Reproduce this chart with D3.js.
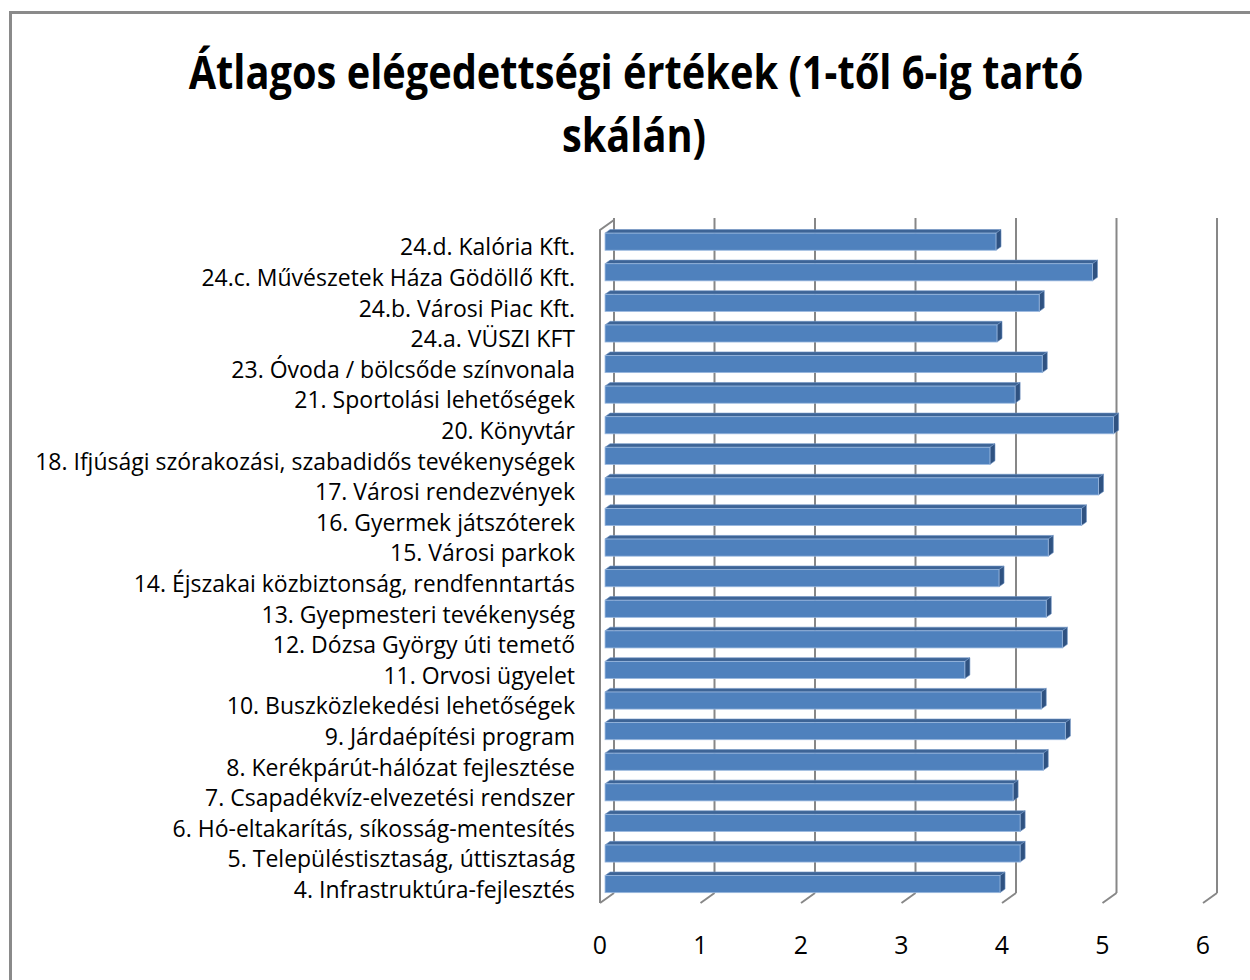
<!DOCTYPE html>
<html>
<head>
<meta charset="utf-8">
<script src="https://cdn.jsdelivr.net/npm/d3@7"></script>
<style>
  html, body { margin: 0; padding: 0; background: #ffffff; }
  svg { display: block; }
  text { font-family: "Open Sans", "Noto Sans", "DejaVu Sans", sans-serif; fill: #000; }
</style>
</head>
<body>
<svg id="chart" width="1250" height="980"></svg>
<script>
// Survey items, listed top to bottom as they appear on the chart
const categories = [
  "24.d. Kalória Kft.",
  "24.c. Művészetek Háza Gödöllő Kft.",
  "24.b. Városi Piac Kft.",
  "24.a. VÜSZI KFT",
  "23. Óvoda / bölcsőde színvonala",
  "21. Sportolási lehetőségek",
  "20. Könyvtár",
  "18. Ifjúsági szórakozási, szabadidős tevékenységek",
  "17. Városi rendezvények",
  "16. Gyermek játszóterek",
  "15. Városi parkok",
  "14. Éjszakai közbiztonság, rendfenntartás",
  "13. Gyepmesteri tevékenység",
  "12. Dózsa György úti temető",
  "11. Orvosi ügyelet",
  "10. Buszközlekedési lehetőségek",
  "9. Járdaépítési program",
  "8. Kerékpárút-hálózat fejlesztése",
  "7. Csapadékvíz-elvezetési rendszer",
  "6. Hó-eltakarítás, síkosság-mentesítés",
  "5. Településtisztaság, úttisztaság",
  "4. Infrastruktúra-fejlesztés"
];

// Average satisfaction (1–6 scale), same order as categories
const averages = [
  3.89, 4.85, 4.32, 3.90, 4.35, 4.08, 5.06, 3.83, 4.91, 4.74, 4.41,
  3.92, 4.39, 4.55, 3.58, 4.34, 4.58, 4.36, 4.06, 4.13, 4.13, 3.93
];

const xTicks = [0, 1, 2, 3, 4, 5, 6];

const titleLines = ["Átlagos elégedettségi értékek (1-től 6-ig tartó", "skálán)"];

const svg = d3.select("#chart");

// Outer chart frame
svg.append("rect")
  .attr("x", 10.5).attr("y", 12.5)
  .attr("width", 1300).attr("height", 1100)
  .attr("fill", "#fff")
  .attr("stroke", "#8a8a8a")
  .attr("stroke-width", 3);

// Front plane scales; the back wall is offset by a fixed depth vector
const x = d3.scaleLinear().domain([0, 6]).range([600, 1203]);
const y = d3.scaleBand().domain(categories).range([230, 903]).paddingInner(0.44).paddingOuter(0.22);
const depth = { dx: 14, dy: -10 };
const yTop = 230, yBottom = 903;

const grid = svg.append("g")
  .attr("stroke", "#878787")
  .attr("stroke-width", 2)
  .attr("fill", "none");

// Back wall gridlines and floor depth ticks
xTicks.forEach(v => {
  const xf = x(v), xb = x(v) + depth.dx;
  grid.append("line")
    .attr("x1", xb).attr("y1", yTop + depth.dy - 2)
    .attr("x2", xb).attr("y2", yBottom + depth.dy);
  grid.append("line")
    .attr("x1", xf).attr("y1", yBottom)
    .attr("x2", xb).attr("y2", yBottom + depth.dy);
});

// Left side wall edge
grid.append("path")
  .attr("d", `M${x(0) + depth.dx},${yTop + depth.dy} L${x(0)},${yTop} L${x(0)},${yBottom}`);

// 3D bars: front face, top face and end face
const f1 = 0.36, f2 = 0.72;
const bars = svg.append("g");
categories.forEach((c, i) => {
  const v = averages[i];
  const ox = depth.dx * f1, oy = depth.dy * f1;
  const tx = depth.dx * (f2 - f1), ty = depth.dy * (f2 - f1);
  const x0 = x(0) + ox, x1 = x(v) + ox;
  const yt = y(c) + oy, yb = y(c) + y.bandwidth() + oy;

  // top face
  bars.append("path")
    .attr("d", `M${x0},${yt} L${x1},${yt} L${x1 + tx},${yt + ty} L${x0 + tx},${yt + ty} Z`)
    .attr("fill", "#3d6496")
    .attr("stroke", "#6f94c4").attr("stroke-width", 0.6);
  // end face
  bars.append("path")
    .attr("d", `M${x1},${yt} L${x1 + tx},${yt + ty} L${x1 + tx},${yb + ty} L${x1},${yb} Z`)
    .attr("fill", "#2f5281")
    .attr("stroke", "#6f94c4").attr("stroke-width", 0.6);
  // front face
  bars.append("rect")
    .attr("x", x0).attr("y", yt)
    .attr("width", x1 - x0).attr("height", yb - yt)
    .attr("fill", "#4f81bd")
    .attr("stroke", "#9bb9df").attr("stroke-width", 0.8);
});

// Category labels (condensed to the chart's narrow lettering)
const labelG = svg.append("g");
const labels = labelG.selectAll("g")
  .data(categories)
  .join("g")
  .attr("transform", d => `translate(575,${y(d) + y.bandwidth() / 2 + 1})`);
const labelText = labels.append("text")
  .attr("text-anchor", "end")
  .attr("dominant-baseline", "central")
  .attr("font-size", 24)
  .attr("fill", "#111")
  .text(d => d);

let widest = 0;
labelText.each(function () { widest = Math.max(widest, this.getComputedTextLength()); });
const sx = 540 / widest;
labelText.attr("transform", `scale(${sx},1)`);

// Value axis labels along the front floor edge
svg.append("g").selectAll("text")
  .data(xTicks)
  .join("text")
  .attr("transform", d => `translate(${x(d)},944) scale(${sx},1)`)
  .attr("text-anchor", "middle")
  .attr("dominant-baseline", "central")
  .attr("font-size", 26)
  .attr("fill", "#111")
  .text(d => d);

// Title
const title = svg.append("g");
const t1 = title.append("text")
  .attr("text-anchor", "middle")
  .attr("font-size", 47)
  .attr("font-weight", "bold")
  .text(titleLines[0]);
const tsx = 895 / t1.node().getComputedTextLength();
t1.attr("transform", `translate(636,89) scale(${tsx},1)`);
title.append("text")
  .attr("text-anchor", "middle")
  .attr("font-size", 47)
  .attr("font-weight", "bold")
  .attr("transform", `translate(634,152) scale(${tsx},1)`)
  .text(titleLines[1]);
</script>
</body>
</html>
